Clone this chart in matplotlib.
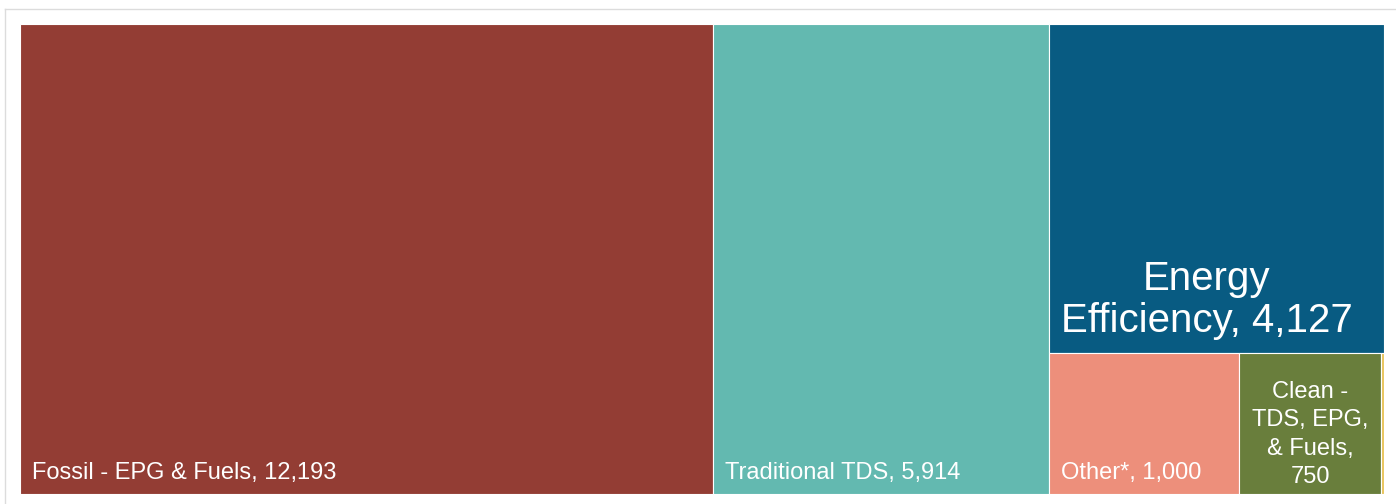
import matplotlib
matplotlib.use("Agg")
import matplotlib.pyplot as plt
from matplotlib.patches import Rectangle
from matplotlib.lines import Line2D

plt.rcParams['font.family'] = ['Liberation Sans', 'DejaVu Sans']

# data
names = ["Fossil - EPG & Fuels", "Traditional TDS", "Energy\nEfficiency", "Other*", "Clean -\nTDS, EPG,\n& Fuels,", "Clean - Other"]
values = [12193, 5914, 4127, 1000, 750, 15]
colors = ["#933d34", "#63b9b0", "#085b82", "#ed8f7b", "#697e3c", "#e8c35a"]

total = sum(values)

fig = plt.figure(figsize=(13.96, 5.04), dpi=100)
ax = fig.add_axes([20 / 1396, 10 / 504, 1364 / 1396, 470 / 504])
ax.set_xlim(0, total)
ax.set_ylim(0, 1)
ax.axis("off")

# outer frame
fig.add_artist(Line2D([5 / 1396, 5 / 1396], [0, 1 - 9 / 504], color="#dcdcdc", lw=1, transform=fig.transFigure))
fig.add_artist(Line2D([5 / 1396, 1], [1 - 9 / 504, 1 - 9 / 504], color="#dcdcdc", lw=1, transform=fig.transFigure))

rects = []
# first two as full-height columns
x0 = 0
for v in values[:2]:
    rects.append((x0, 0, v, 1))
    x0 += v
# remaining column
col_w = sum(values[2:])
ee_h = values[2] / col_w
rects.append((x0, 1 - ee_h, col_w, ee_h))
row_sum = sum(values[3:])
xx = x0
for v in values[3:]:
    w = v / row_sum * col_w
    rects.append((xx, 0, w, 1 - ee_h))
    xx += w

for (x, y, w, h), c in zip(rects, colors):
    ax.add_patch(Rectangle((x, y), w, h, facecolor=c, edgecolor="white", lw=0.8))

pad = 12 / 1364 * total
bpad = 0.022

for i in (0, 1, 3):
    x, y, w, h = rects[i]
    ax.text(x + pad, y + bpad, names[i] + ", " + f"{values[i]:,}", color="white", fontsize=17,
            ha="left", va="bottom")

x, y, w, h = rects[2]
ax.text(x + w / 2 - 10 / 1364 * total, y + 0.028, names[2] + ", " + f"{values[2]:,}", color="white",
        fontsize=29, ha="center", va="bottom", linespacing=1.15)

x, y, w, h = rects[4]
ax.text(x + w / 2, y + 0.012, names[4] + "\n" + f"{values[4]:,}", color="white",
        fontsize=17, ha="center", va="bottom", linespacing=1.38)

fig.savefig("out.png", dpi=100)
